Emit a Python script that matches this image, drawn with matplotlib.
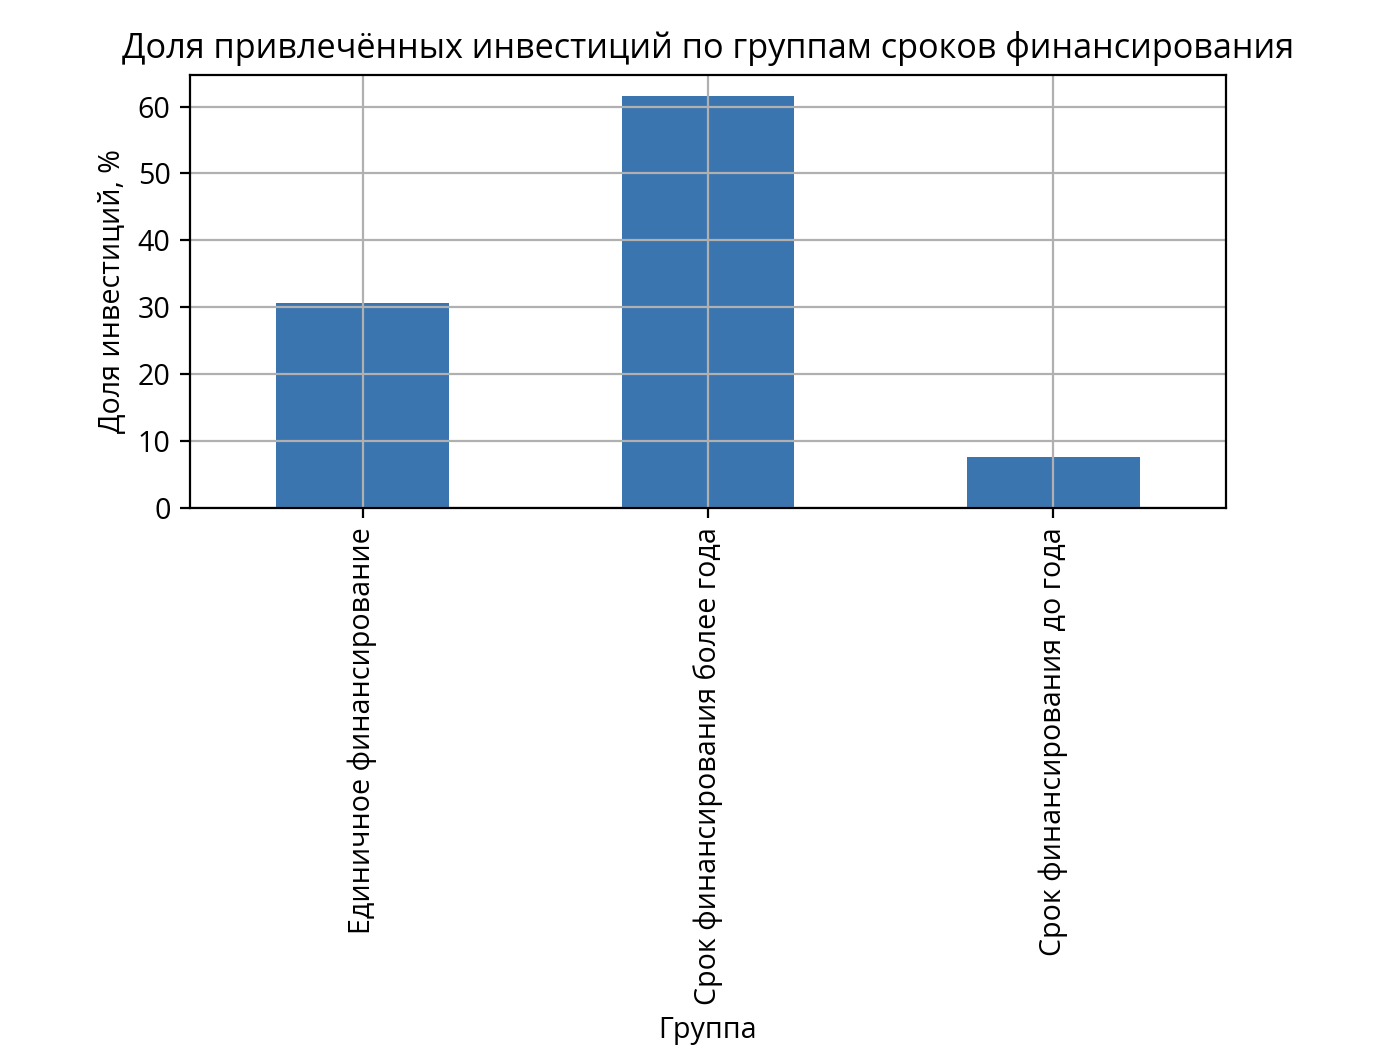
import matplotlib
matplotlib.use('Agg')
import matplotlib.pyplot as plt
import pandas as pd

# Data
groups = ['Единичное финансирование',
          'Срок финансирования более года',
          'Срок финансирования до года']
shares = [30.7, 61.65, 7.65]

plt.rcParams['font.family'] = ['Open Sans', 'DejaVu Sans']
plt.rcParams['font.size'] = 10.3

s = pd.Series(shares, index=groups)

fig = plt.figure(figsize=(6.95, 5.32), dpi=200)
ax = fig.add_axes([0.1367, 0.5226, 0.7453, 0.407])
s.plot(kind='bar', ax=ax, color='#3a75af', grid=True)
ax.set_title('Доля привлечённых инвестиций по группам сроков финансирования', fontsize=12.35)
ax.set_xlabel('Группа')
ax.set_ylabel('Доля инвестиций, %')

fig.savefig('out.png', dpi=200)
